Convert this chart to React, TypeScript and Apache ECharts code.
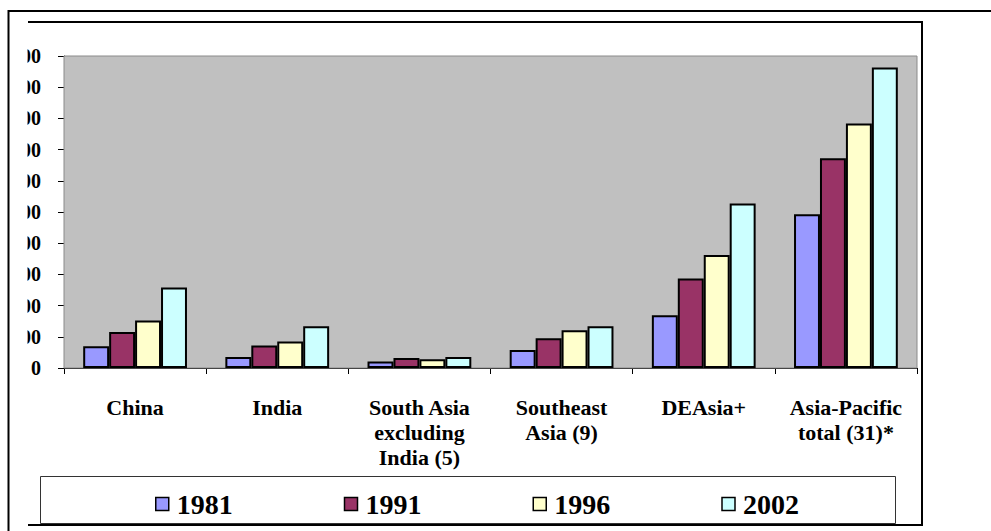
import React, { useEffect, useRef } from "react";
import * as echarts from "echarts";

const categories = [
  "China",
  "India",
  "South Asia\nexcluding\nIndia (5)",
  "Southeast\nAsia (9)",
  "DEAsia+",
  "Asia-Pacific\ntotal (31)*",
];
const seriesNames = ["1981", "1991", "1996", "2002"];
const values1981 = [70, 35, 21, 58, 169, 493];
const values1991 = [115, 72, 32, 95, 287, 672];
const values1996 = [152, 85, 28, 121, 362, 784];
const values2002 = [258, 134, 35, 134, 527, 963];
const seriesColors = ["#9999FF", "#993366", "#FFFFCC", "#CCFFFF"];
const yMin = 0;
const yMax = 1000;
const yInterval = 100;

const FONT = "'Liberation Serif', 'Times New Roman', serif";

export default function App() {
  const ref = useRef<HTMLDivElement>(null);

  useEffect(() => {
    if (!ref.current) return;
    const chart = echarts.init(ref.current, null, { renderer: "svg" });
    const allValues = [values1981, values1991, values1996, values2002];
    chart.setOption({
      animation: false,
      backgroundColor: "#ffffff",
      textStyle: { fontFamily: FONT },
      grid: {
        left: 64,
        right: 74,
        top: 56,
        bottom: 163,
        containLabel: false,
        outerBoundsMode: "none",
        show: true,
        backgroundColor: "#C0C0C0",
        borderColor: "#8a8a8a",
        borderWidth: 1,
        z: 1,
      },
      legend: {
        data: seriesNames,
        left: 150,
        top: 485,
        itemWidth: 13,
        itemHeight: 13,
        itemGap: 111,
        icon: "rect",
        z: 5,
        itemStyle: { borderColor: "#000", borderWidth: 1.5 },
        textStyle: {
          fontFamily: FONT,
          fontWeight: "bold",
          fontSize: 28,
          color: "#000",
          padding: [0, 0, 0, 3],
        },
      },
      xAxis: {
        type: "category",
        data: categories,
        axisLine: { show: true, lineStyle: { color: "#000", width: 1 } },
        axisTick: { show: true, length: 6, lineStyle: { color: "#000" } },
        axisLabel: {
          interval: 0,
          margin: 27,
          fontFamily: FONT,
          fontWeight: "bold",
          fontSize: 22,
          lineHeight: 25,
          color: "#000",
        },
      },
      yAxis: {
        type: "value",
        min: yMin,
        max: yMax,
        interval: yInterval,
        axisLine: { show: true, lineStyle: { color: "#000", width: 1 } },
        axisTick: { show: true, length: 6, lineStyle: { color: "#000" } },
        splitLine: { show: true, lineStyle: { color: "#000", width: 1 } },
        axisLabel: {
          margin: 23,
          fontFamily: FONT,
          fontWeight: "bold",
          fontSize: 20,
          color: "#000",
        },
      },
      series: seriesNames.map((name, i) => ({
        name,
        type: "bar",
        data: allValues[i],
        barGap: "0%",
        barCategoryGap: "27%",
        itemStyle: {
          color: seriesColors[i],
          borderColor: "#000",
          borderWidth: 2,
        },
        z: 3,
      })),
      graphic: [
        {
          type: "rect",
          shape: { x: 0, y: 40, width: 27.5, height: 345 },
          style: { fill: "#ffffff" },
          z: 100,
        },
        {
          type: "rect",
          shape: { x: 40.5, y: 476.5, width: 855, height: 47 },
          style: { fill: "#ffffff", stroke: "#333", lineWidth: 1 },
          z: 1,
        },
        {
          type: "polyline",
          shape: { points: [[991, 11], [8.5, 11], [8.5, 531]] },
          style: { stroke: "#000", lineWidth: 2, fill: null },
          z: 101,
        },
        {
          type: "polyline",
          shape: { points: [[28, 22], [922, 22], [922, 525], [28, 525]] },
          style: { stroke: "#000", lineWidth: 2, fill: null },
          z: 101,
        },
      ],
    });
    return () => chart.dispose();
  }, []);

  return (
    <div
      ref={ref}
      style={{ position: "fixed", left: 0, top: 0, width: 991, height: 531 }}
    />
  );
}
